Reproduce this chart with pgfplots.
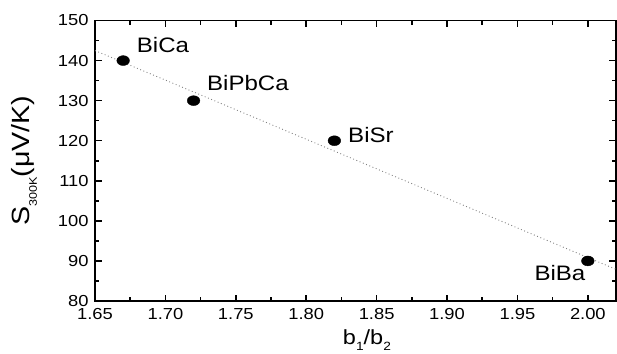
\documentclass[border=0pt]{standalone}
\usepackage{pgfplots}
\pgfplotsset{compat=1.18}
\usepackage{fontspec}
\setmainfont[FakeStretch=1.15]{Liberation Sans}
\newcommand\lowsub[3]{\raisebox{-#3}{\fontsize{#1}{#1}\selectfont #2}}
\begin{document}
\begin{tikzpicture}
\useasboundingbox (-95bp,-53bp) rectangle (522bp,301bp);
\begin{axis}[
  scale only axis,
  width=521bp, height=280.5bp,
  xmin=1.65, xmax=2.02,
  ymin=80, ymax=150,
  xtick={1.65,1.70,...,2.001},
  ytick={80,90,...,150},
  minor x tick num=1,
  minor y tick num=1,
  tick align=inside,
  xtick pos=both, ytick pos=both,
  xticklabel pos=lower, yticklabel pos=left,
  major tick length=6.5bp,
  minor tick length=4.5bp,
  axis line style={line width=1.8bp},
  every tick/.style={black, line width=1.5bp},
  /pgf/number format/assume math mode=true,
  xticklabel style={/pgf/number format/.cd, fixed, fixed zerofill, precision=2, /tikz/.cd, yshift=-4bp},
  yticklabel style={/pgf/number format/.cd, fixed, precision=0, /tikz/.cd, xshift=-3bp},
  tick label style={font=\fontsize{16}{16}\selectfont},
  xlabel={b\lowsub{12}{1}{6bp}/b\lowsub{12}{2}{6bp}},
  ylabel={S\lowsub{11}{300K}{7.5bp}(μV/K)},
  xlabel style={font=\fontsize{20.5}{20.5}\selectfont, at={(axis description cs:0.522,-0.138)}, anchor=center},
  ylabel style={font=\fontsize{25}{25}\selectfont, at={(axis description cs:-0.136,0.5)}, anchor=center},
  clip=true,
]
\addplot[gray, line width=0.9bp, dash pattern=on 0.9bp off 2.6bp] coordinates {(1.65,142.5) (2.02,87.9)};
\addplot[only marks, mark=*, mark size=5.5bp, mark options={black, fill=black, xscale=1.15, yscale=0.9}] coordinates {
  (1.67,140) (1.72,130) (1.82,120) (2.00,90)};
\node[anchor=west, inner sep=0pt, font=\fontsize{21}{21}\selectfont] at (axis cs:1.6796,143.9) {BiCa};
\node[anchor=west, inner sep=0pt, font=\fontsize{21}{21}\selectfont] at (axis cs:1.7295,134.5) {BiPbCa};
\node[anchor=west, inner sep=0pt, font=\fontsize{21}{21}\selectfont] at (axis cs:1.8297,121.5) {BiSr};
\node[anchor=center, inner sep=0pt, font=\fontsize{21}{21}\selectfont] at (axis cs:1.9802,86.9) {BiBa};
\end{axis}
\end{tikzpicture}
\end{document}
